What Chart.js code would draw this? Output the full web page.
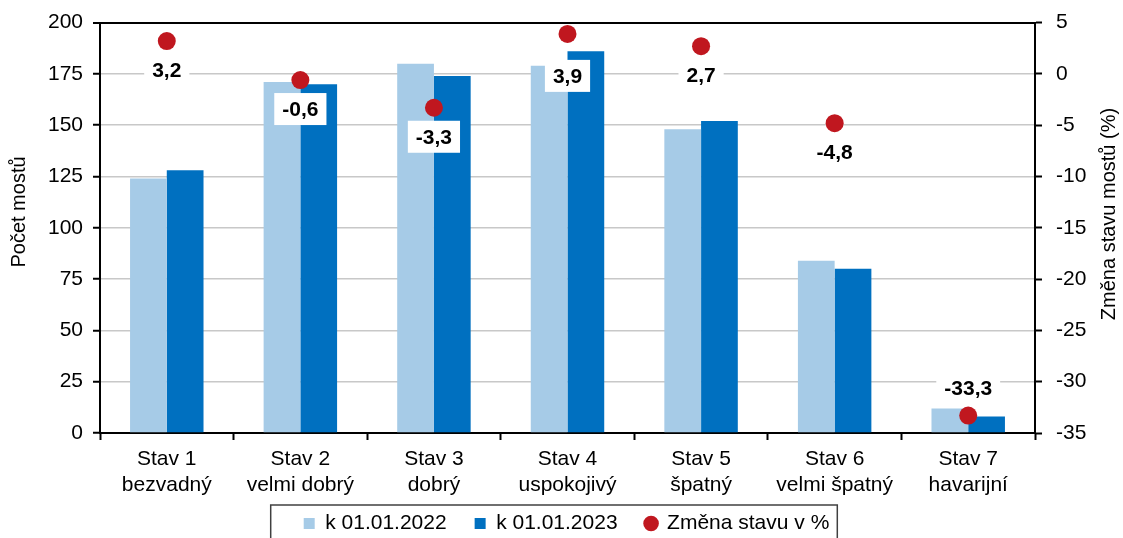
<!DOCTYPE html>
<html lang="cs">
<head>
  <meta charset="UTF-8">
  <title>Stav mostů</title>
  <script src="https://cdn.jsdelivr.net/npm/chart.js"></script>
  <style>
    html, body { margin: 0; padding: 0; background: #fff; overflow: hidden; }
    /* pulled up a little so the plot top lands where the original has it */
    .chart-box { position: relative; width: 1123px; height: 548px; margin-top: -4px; }
  </style>
</head>
<body>
  <div class="chart-box"><canvas id="bridgeChart"></canvas></div>

  <script>
    // data
    const categories = [
      ['Stav 1', 'bezvadný'],
      ['Stav 2', 'velmi dobrý'],
      ['Stav 3', 'dobrý'],
      ['Stav 4', 'uspokojivý'],
      ['Stav 5', 'špatný'],
      ['Stav 6', 'velmi špatný'],
      ['Stav 7', 'havarijní']
    ];
    const count2022 = [124, 171, 180, 179, 148, 84, 12];
    const count2023 = [128, 170, 174, 186, 152, 80, 8];
    const changePct = [3.2, -0.6, -3.3, 3.9, 2.7, -4.8, -33.3];
    const seriesNames = ['k 01.01.2022', 'k 01.01.2023', 'Změna stavu v %'];

    const FONT = '"Liberation Sans", Arial, sans-serif';
    const BLACK = '#000';
    const GRID = '#c8c8c8';

    // vertical shift of each value label from its dot (px)
    const labelShift = [29, 29, 29, 42, 29, 29, -27];

    const valueLabels = {
      id: 'valueLabels',
      afterDatasetsDraw(chart) {
        const meta = chart.getDatasetMeta(2);
        const ctx = chart.ctx;
        ctx.save();
        ctx.font = 'bold 21px ' + FONT;
        ctx.textAlign = 'center';
        ctx.textBaseline = 'middle';
        meta.data.forEach((pt, i) => {
          const txt = String(changePct[i]).replace('.', ',');
          const w = ctx.measureText(txt).width + 16;
          const h = 32;
          const x = pt.x;
          const y = pt.y + labelShift[i];
          ctx.fillStyle = '#fff';
          ctx.fillRect(x - w / 2, y - h / 2, w, h);
          ctx.fillStyle = BLACK;
          ctx.fillText(txt, x, y + 1);
        });
        ctx.restore();
      }
    };

    const axisTitles = {
      id: 'axisTitles',
      afterDraw(chart) {
        const ctx = chart.ctx;
        ctx.save();
        ctx.font = '20px ' + FONT;
        ctx.fillStyle = BLACK;
        ctx.textAlign = 'center';
        ctx.textBaseline = 'middle';
        ctx.translate(19, 216);
        ctx.rotate(-Math.PI / 2);
        ctx.fillText('Počet mostů', 0, 0);
        ctx.restore();

        ctx.save();
        ctx.font = '20px ' + FONT;
        ctx.fillStyle = BLACK;
        ctx.textAlign = 'center';
        ctx.textBaseline = 'middle';
        ctx.translate(1109, 218);
        ctx.rotate(-Math.PI / 2);
        ctx.fillText('Změna stavu mostů (%)', 0, 0);
        ctx.restore();
      }
    };

    // the x axis box is kept short so the legend sits close; let its labels spill below it
    const unclipX = {
      id: 'unclipX',
      afterLayout(chart) {
        chart.scales.x.bottom = chart.height;
      }
    };

    // frame round the legend, like the original
    const legendFrame = {
      id: 'legendFrame',
      afterDraw(chart) {
        const boxes = chart.legend && chart.legend.legendHitBoxes;
        if (!boxes || !boxes.length) return;
        const left = Math.min(...boxes.map(b => b.left)) - 33;
        const right = Math.max(...boxes.map(b => b.left + b.width)) + 8;
        const top = boxes[0].top - 8;
        const ctx = chart.ctx;
        ctx.save();
        ctx.strokeStyle = '#404040';
        ctx.lineWidth = 1.5;
        ctx.strokeRect(left, top, right - left, 60);
        ctx.restore();
      }
    };

    const ctx = document.getElementById('bridgeChart').getContext('2d');

    new Chart(ctx, {
      data: {
        labels: categories,
        datasets: [
          {
            type: 'bar',
            label: seriesNames[0],
            data: count2022,
            backgroundColor: '#a6cbe7',
            borderWidth: 0,
            pointStyle: 'rect',
            yAxisID: 'y',
            order: 1
          },
          {
            type: 'bar',
            label: seriesNames[1],
            data: count2023,
            backgroundColor: '#0070c0',
            borderWidth: 0,
            pointStyle: 'rect',
            yAxisID: 'y',
            order: 1
          },
          {
            type: 'line',
            label: seriesNames[2],
            data: changePct,
            showLine: false,
            pointStyle: 'circle',
            pointRadius: 9,
            pointHoverRadius: 9,
            pointBorderWidth: 0,
            pointBackgroundColor: '#c0171f',
            backgroundColor: '#c0171f',
            borderColor: '#c0171f',
            borderWidth: 0,
            yAxisID: 'y1',
            order: 0
          }
        ]
      },
      options: {
        responsive: true,
        maintainAspectRatio: false,
        animation: false,
        layout: { padding: { top: 17, left: 10, right: 0, bottom: 0 } },
        datasets: {
          bar: { categoryPercentage: 0.55, barPercentage: 1.0 }
        },
        plugins: {
          tooltip: { enabled: false },
          legend: {
            position: 'bottom',
            labels: {
              usePointStyle: true,
              boxWidth: 11,
              boxHeight: 11,
              padding: 28,
              color: BLACK,
              font: { family: FONT, size: 21 },
              sort: (a, b) => a.datasetIndex - b.datasetIndex
            }
          }
        },
        scales: {
          x: {
            afterFit: s => { s.height = 52; },
            grid: {
              offset: true,
              drawOnChartArea: false,
              drawTicks: true,
              tickLength: 7,
              tickColor: BLACK,
              tickWidth: 2
            },
            border: { display: true, color: BLACK, width: 2 },
            ticks: {
              color: BLACK,
              padding: 7,
              maxRotation: 0,
              autoSkip: false,
              font: { family: FONT, size: 21, lineHeight: 1.2 }
            }
          },
          y: {
            position: 'left',
            min: 0,
            max: 200,
            afterFit: s => { s.width = 90; },
            grid: {
              color: c => (c.tick && (c.tick.value === 200 || c.tick.value === 0)) ? BLACK : GRID,
              lineWidth: c => (c.tick && c.tick.value === 200) ? 2 : 1.5,
              drawTicks: true,
              tickLength: 7,
              tickColor: BLACK,
              tickWidth: 2
            },
            border: { display: true, color: BLACK, width: 2 },
            ticks: {
              stepSize: 25,
              color: BLACK,
              padding: 10,
              font: { family: FONT, size: 21 }
            }
          },
          y1: {
            position: 'right',
            min: -35,
            max: 5,
            afterFit: s => { s.width = 88; },
            grid: {
              drawOnChartArea: false,
              drawTicks: true,
              tickLength: 7,
              tickColor: BLACK,
              tickWidth: 2
            },
            border: { display: true, color: BLACK, width: 2 },
            ticks: {
              stepSize: 5,
              color: BLACK,
              padding: 14,
              font: { family: FONT, size: 21 }
            }
          }
        }
      },
      plugins: [unclipX, valueLabels, axisTitles, legendFrame]
    });
  </script>
</body>
</html>
